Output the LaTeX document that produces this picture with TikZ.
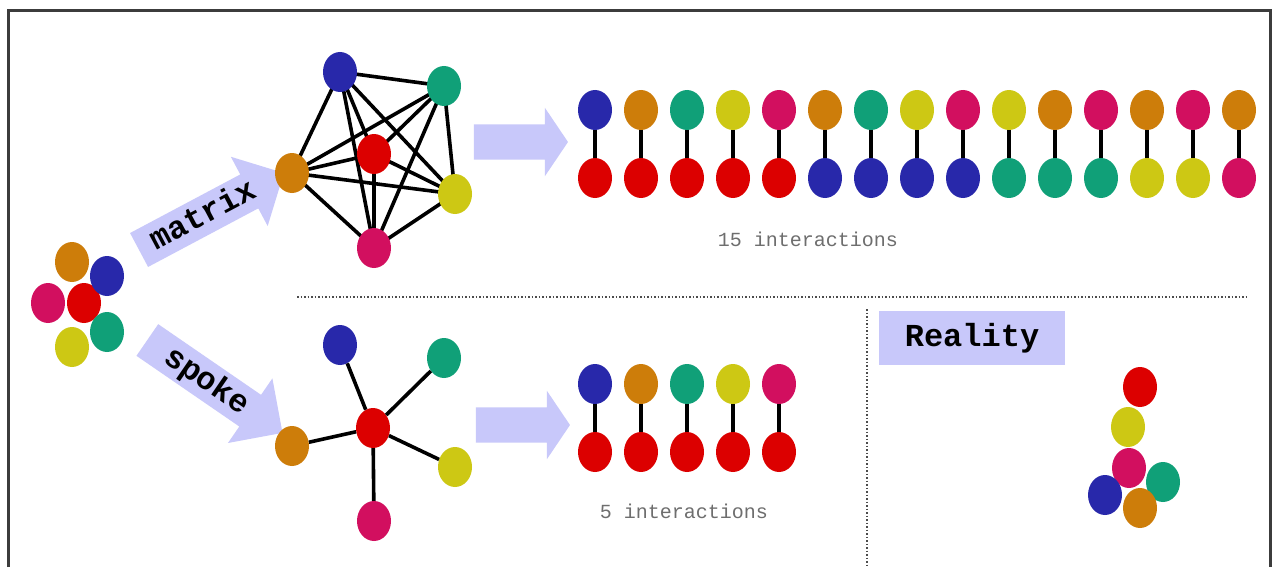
\documentclass[tikz,border=0pt]{standalone}
\usepackage{fontspec}
\setmonofont{Liberation Mono}
\usetikzlibrary{shapes.geometric,shapes.arrows}
\pgfdeclarelayer{bgw}
\pgfdeclarelayer{bg}
\pgfsetlayers{bgw,bg,main}
\definecolor{cblue}{RGB}{40,40,170}
\definecolor{corange}{RGB}{205,125,10}
\definecolor{cteal}{RGB}{16,160,120}
\definecolor{cyellow}{RGB}{205,200,20}
\definecolor{cmag}{RGB}{210,15,95}
\definecolor{cred}{RGB}{220,0,0}
\definecolor{lav}{RGB}{200,200,250}
\definecolor{framecol}{RGB}{60,60,60}
\definecolor{txtgray}{RGB}{110,110,110}
\begin{document}
\begin{tikzpicture}[x=1pt,y=-1pt,
  ball/.style={ellipse, minimum width=34pt, minimum height=40pt, inner sep=0pt, fill=#1},
  link/.style={line width=3.6pt, black},
  bigarrow/.style={single arrow, fill=lav, minimum height=94pt, inner xsep=0pt, inner ysep=17.5pt,
     single arrow head extend=16.5pt, single arrow tip angle=112},
  labarrow/.style={single arrow, fill=lav, minimum height=164pt, inner xsep=4pt, inner ysep=9pt,
     text height=19pt, text depth=1pt, single arrow head extend=20pt,
     font=\ttfamily\bfseries\fontsize{32}{32}\selectfont},
  count/.style={font=\ttfamily\fontsize{20}{20}\selectfont, text=txtgray},
  sep/.style={line width=1.5pt, dotted, black!70}]
\useasboundingbox (0,0) rectangle (1273,567);
\begin{pgfonlayer}{bgw}
\fill[white] (0,0) rectangle (1273,567);
\end{pgfonlayer}
\draw[line width=3pt, framecol] (8,567) -- (8,11) -- (1270,11) -- (1270,567);

% left cluster
\node[ball=corange] (lo) at (72,262) {};
\node[ball=cmag] (lm) at (48,303) {};
\node[ball=cred] (lr) at (84,303) {};
\node[ball=cblue] (lb) at (107,276) {};
\node[ball=cyellow] (ly) at (72,347) {};
\node[ball=cteal] (lt) at (107,332) {};

% label arrows
\node[labarrow, rotate=28] (matrix) at (203,216) {matrix};
\node[labarrow, rotate=-34.5] (spoke) at (207,381) {spoke};

% complete graph
\node[ball=cblue] (kb) at (340,72) {};
\node[ball=cteal] (kt) at (444,86) {};
\node[ball=cred] (kr) at (374,154) {};
\node[ball=corange] (ko) at (292,173) {};
\node[ball=cyellow] (ky) at (455,194) {};
\node[ball=cmag] (km) at (374,248) {};
\begin{pgfonlayer}{bg}
\foreach \a/\b in {kb/kt,kb/kr,kb/ko,kb/ky,kb/km,kt/kr,kt/ko,kt/ky,kt/km,kr/ko,kr/ky,kr/km,ko/ky,ko/km,ky/km}
  \draw[link] (\a.center) -- (\b.center);
\end{pgfonlayer}

% star
\node[ball=cred] (sr) at (373,428) {};
\node[ball=cblue] (sb) at (340,345) {};
\node[ball=cteal] (st) at (444,358) {};
\node[ball=corange] (so) at (292,446) {};
\node[ball=cyellow] (sy) at (455,467) {};
\node[ball=cmag] (sm) at (374,521) {};
\foreach \b in {sb,st,so,sy,sm}
  \draw[link] (sr) -- (\b);

% big arrows
\node[bigarrow] (arrA) at (515,142) {};
\node[bigarrow] (arrB) at (517,425) {};

% 15 pairs
\foreach \i/\tc/\bc in {1/cblue/cred,2/corange/cred,3/cteal/cred,4/cyellow/cred,5/cmag/cred,
  6/corange/cblue,7/cteal/cblue,8/cyellow/cblue,9/cmag/cblue,
  10/cyellow/cteal,11/corange/cteal,12/cmag/cteal,
  13/corange/cyellow,14/cmag/cyellow,15/corange/cmag}{
  \node[ball=\tc] (t\i) at ({595+46*(\i-1)},110) {};
  \node[ball=\bc] (b\i) at ({595+46*(\i-1)},178) {};
  \draw[link] (t\i) -- (b\i);
}
\node[count] (c15) at (808,239) {15 interactions};

% 5 pairs
\foreach \i/\tc in {1/cblue,2/corange,3/cteal,4/cyellow,5/cmag}{
  \node[ball=\tc] (u\i) at ({595+46*(\i-1)},384) {};
  \node[ball=cred] (v\i) at ({595+46*(\i-1)},452) {};
  \draw[link] (u\i) -- (v\i);
}
\node[count] (c5) at (684,511) {5 interactions};

% separators
\coordinate (h1) at (297,297);
\coordinate (h2) at (1248,297);
\coordinate (v1) at (867,309);
\coordinate (v2) at (867,567);
\draw[sep] (h1) -- (h2);
\draw[sep] (v1) -- (v2);

% reality
\node[fill=lav, minimum width=186pt, minimum height=54pt, inner sep=0pt,
  font=\ttfamily\bfseries\fontsize{32}{32}\selectfont] (real) at (972,338) {Reality};
\node[ball=cred] (rr) at (1140,387) {};
\node[ball=cyellow] (ry) at (1128,427) {};
\node[ball=cteal] (rt) at (1163,482) {};
\node[ball=cmag] (rm) at (1129,468) {};
\node[ball=cblue] (rb) at (1105,495) {};
\node[ball=corange] (ro) at (1140,508) {};
\end{tikzpicture}
\end{document}
